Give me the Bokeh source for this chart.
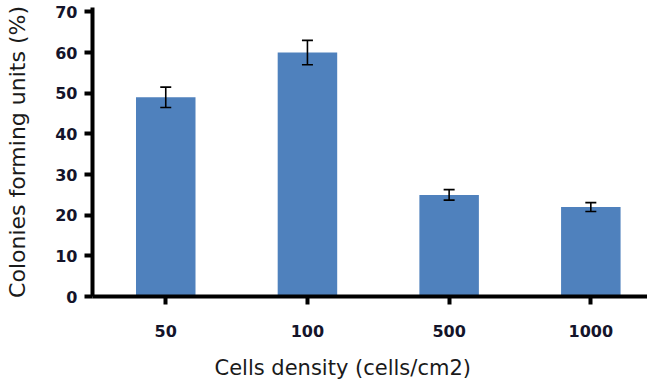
from bokeh.plotting import figure
from bokeh.models import ColumnDataSource, Whisker, TeeHead, Range1d, FixedTicker, Title
from bokeh.embed import file_html
from bokeh.resources import INLINE

categories = ["50", "100", "500", "1000"]
values = [49, 60, 25, 22]
errors = [2.5, 3.0, 1.3, 1.1]
y_ticks = [0, 10, 20, 30, 40, 50, 60, 70]

xs = list(range(len(categories)))
src = ColumnDataSource(dict(
    x=xs, top=values,
    upper=[v + e for v, e in zip(values, errors)],
    lower=[v - e for v, e in zip(values, errors)],
))

p = figure(width=647, height=385, output_backend="svg", toolbar_location=None,
           x_range=Range1d(-0.517, 3.40), y_range=Range1d(0, 71.1),
           min_border_left=92, min_border_top=7, min_border_right=0, min_border_bottom=89)
p.outline_line_color = None
p.grid.visible = False

p.vbar(x="x", top="top", width=0.42, source=src, fill_color="#4F81BD", line_color=None)
w = Whisker(base="x", upper="upper", lower="lower", source=src, line_color="black",
            line_width=1.6, level="overlay")
w.upper_head = TeeHead(size=11, line_color="black", line_width=1.6)
w.lower_head = TeeHead(size=11, line_color="black", line_width=1.6)
p.add_layout(w)

font = "DejaVu Sans"
p.xaxis.ticker = FixedTicker(ticks=xs)
p.xaxis.major_label_overrides = {i: c for i, c in zip(xs, categories)}
p.yaxis.ticker = FixedTicker(ticks=y_ticks)

for ax in (p.xaxis, p.yaxis):
    ax.axis_line_width = 4
    ax.axis_line_color = "black"
    ax.major_tick_line_width = 4
    ax.major_tick_line_color = "black"
    ax.major_tick_in = 0
    ax.major_tick_out = 8
    ax.minor_tick_line_color = None
    ax.major_label_text_font = font
    ax.major_label_text_font_size = "16px"
    ax.major_label_text_font_style = "bold"
    ax.major_label_text_color = "#14142a"
    ax.axis_label_text_font = font
    ax.axis_label_text_font_style = "normal"
    ax.axis_label_text_color = "#1a1a1a"

p.yaxis.axis_label_text_font_size = "22px"
p.yaxis.axis_label = "Colonies forming units (%)"
p.xaxis.major_label_standoff = 20
p.yaxis.major_label_standoff = 7
p.yaxis.axis_label_standoff = 22

# spacer between tick labels and the offset x-axis title
p.xaxis.axis_label = " "
p.xaxis.axis_label_text_font_size = "8px"
p.xaxis.axis_label_standoff = 0

xlabel = Title(text="Cells density (cells/cm2)", align="left", offset=122,
               text_font=font, text_font_size="21px", text_font_style="normal",
               text_color="#1a1a1a", standoff=4)
p.add_layout(xlabel, "below")

open("out.html", "w").write(file_html(p, INLINE))
